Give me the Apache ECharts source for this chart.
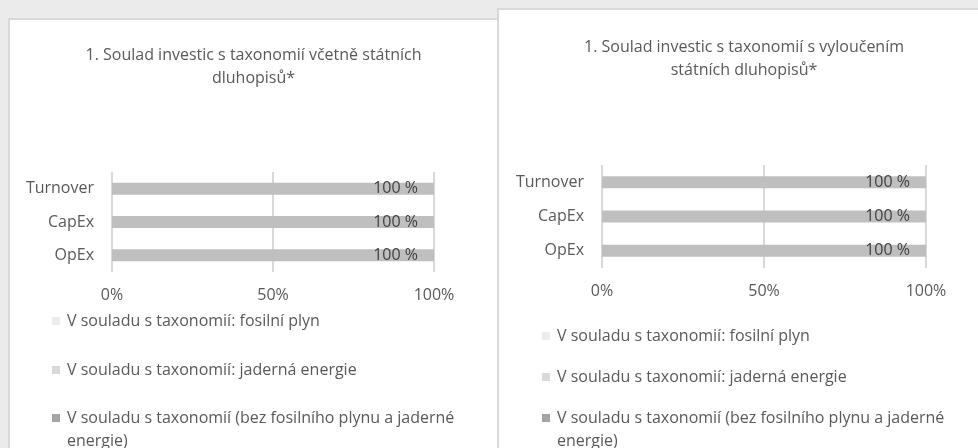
<!DOCTYPE html>
<html>
<head>
<meta charset="utf-8">
<script src="https://cdn.jsdelivr.net/npm/echarts@6/dist/echarts.min.js"></script>
<style>
  html, body { margin: 0; padding: 0; background: #ebebeb; width: 978px; height: 448px; overflow: hidden; }
  .panel { position: absolute; background: #fff; border: 2px solid #d9d9d9; box-sizing: border-box; }
  #left { left: 8px; top: 18px; width: 491px; height: 460px; z-index: 1; }
  #right { left: 497px; top: 8px; width: 494px; height: 470px; z-index: 2; }
  .chart { width: 100%; height: 100%; }
</style>
</head>
<body>
<div class="panel" id="left"><div class="chart" id="chartLeft"></div></div>
<div class="panel" id="right"><div class="chart" id="chartRight"></div></div>
<script>
const categories = ['Turnover', 'CapEx', 'OpEx']
const seriesNames = [
  'V souladu s taxonomií: fosilní plyn',
  'V souladu s taxonomií: jaderná energie',
  'V souladu s taxonomií (bez fosilního plynu a jaderné energie)',
]
const xTicks = [0, 50, 100]

// graf 1 - včetně státních dluhopisů
const leftTitle = '1. Soulad investic s taxonomií včetně státních\ndluhopisů*'
const leftGas = [0, 0, 0]
const leftNuclear = [0, 0, 0]
const leftAligned = [100, 100, 100]

// graf 2 - s vyloučením státních dluhopisů
const rightTitle = '1. Soulad investic s taxonomií s vyloučením\nstátních dluhopisů*'
const rightGas = [0, 0, 0]
const rightNuclear = [0, 0, 0]
const rightAligned = [100, 100, 100]

const FONT = 'Open Sans'
const TEXT = '#595959'
// ikonka legendy nahoře u prvního řádku zalomeného textu
const TALL_ICON = 'path://M0,0h8v8h-8z M7.99,30.99h0.01v0.01h-0.01z'

function makeOption(cfg) {
  const barBase = {
    type: 'bar',
    stack: 'total',
    barWidth: 12,
  }
  const legendText = { color: TEXT, fontSize: 16, lineHeight: 23, fontFamily: FONT, padding: [0, 0, 0, 2] }
  return {
    animation: false,
    textStyle: { fontFamily: FONT },
    title: {
      text: cfg.title,
      left: 'center',
      top: cfg.titleTop,
      padding: 0,
      textStyle: {
        fontFamily: FONT,
        fontSize: 16,
        fontWeight: 'normal',
        color: TEXT,
        lineHeight: 23,
      },
    },
    grid: { left: cfg.grid[0], top: cfg.grid[1], width: cfg.grid[2], height: cfg.grid[3] },
    xAxis: {
      type: 'value',
      min: xTicks[0],
      max: xTicks[xTicks.length - 1],
      interval: 50,
      axisLine: { show: false },
      axisTick: { show: false },
      axisLabel: { formatter: '{value}%', color: TEXT, fontSize: 16, margin: 15, fontFamily: FONT },
      splitLine: { show: true, lineStyle: { color: '#d9d9d9', width: 2 } },
    },
    yAxis: {
      type: 'category',
      data: categories,
      inverse: true,
      axisLine: { show: false },
      axisTick: { show: false },
      axisLabel: { color: TEXT, fontSize: 16, margin: 18, fontFamily: FONT },
    },
    legend: [
      {
        orient: 'vertical',
        left: cfg.legendLeft,
        top: cfg.legendTop,
        padding: 0,
        itemWidth: 8,
        itemHeight: 8,
        itemGap: cfg.legendGap,
        icon: 'rect',
        textStyle: legendText,
        data: [
          { name: seriesNames[0], itemStyle: { color: '#ededed' } },
          { name: seriesNames[1], itemStyle: { color: '#d9d9d9' } },
        ],
      },
      {
        orient: 'vertical',
        left: cfg.legendLeft,
        top: cfg.legendTop2,
        padding: 0,
        itemWidth: 8,
        itemHeight: 31,
        icon: TALL_ICON,
        textStyle: { ...legendText, width: cfg.legendWidth, overflow: 'break' },
        data: [{ name: seriesNames[2], itemStyle: { color: '#a5a5a5' } }],
      },
    ],
    series: [
      { ...barBase, name: seriesNames[0], data: cfg.gas, itemStyle: { color: '#ededed' } },
      { ...barBase, name: seriesNames[1], data: cfg.nuclear, itemStyle: { color: '#d9d9d9' } },
      {
        ...barBase,
        name: seriesNames[2],
        data: cfg.aligned,
        itemStyle: { color: '#bfbfbf' },
        label: {
          show: true,
          position: 'insideRight',
          distance: 16,
          formatter: '{c} %',
          color: '#404040',
          fontSize: 16,
          fontFamily: FONT,
        },
      },
    ],
  }
}

const chartLeft = echarts.init(document.getElementById('chartLeft'))
chartLeft.setOption(makeOption({
  title: leftTitle, titleTop: 23.5,
  grid: [102, 152, 322, 100],
  legendLeft: 42, legendTop: 289.5, legendGap: 26, legendTop2: 386.5, legendWidth: 440,
  gas: leftGas, nuclear: leftNuclear, aligned: leftAligned,
}))

const chartRight = echarts.init(document.getElementById('chartRight'))
chartRight.setOption(makeOption({
  title: rightTitle, titleTop: 25.5,
  grid: [103, 155, 324, 103],
  legendLeft: 43, legendTop: 314.5, legendGap: 18, legendTop2: 396.5, legendWidth: 440,
  gas: rightGas, nuclear: rightNuclear, aligned: rightAligned,
}))
</script>
</body>
</html>
